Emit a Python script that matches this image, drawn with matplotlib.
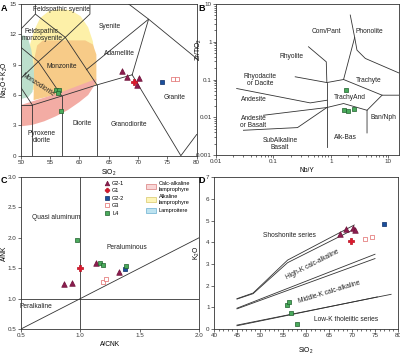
import matplotlib
matplotlib.use('Agg')
import matplotlib.pyplot as plt
from matplotlib.patches import Polygon, Rectangle
from matplotlib.lines import Line2D
from matplotlib.ticker import MultipleLocator, FixedLocator, FixedFormatter

plt.rcParams['font.family'] = ['Liberation Sans', 'DejaVu Sans']
plt.rcParams['mathtext.fontset'] = 'custom'
plt.rcParams['mathtext.rm'] = 'Liberation Sans'
plt.rcParams['mathtext.it'] = 'Liberation Sans:italic'

# ---------------- data ----------------
# A: SiO2 vs Na2O+K2O
a_g21_x = [67.3, 68.2, 70.1, 69.8]
a_g21_y = [8.37, 7.75, 7.65, 7.0]
a_g1_x = [69.3]
a_g1_y = [7.25]
a_g22_x = [74.1]
a_g22_y = [7.3]
a_g3_x = [76.0, 76.7]
a_g3_y = [7.6, 7.6]
a_l4_x = [56.0, 56.6, 56.4, 56.8]
a_l4_y = [6.5, 6.5, 6.2, 4.45]

# B: Nb/Y vs Zr/TiO2
b_l4_x = [1.83, 1.66, 1.98, 2.55]
b_l4_y = [0.052, 0.0153, 0.0144, 0.0163]

# C: A/CNK vs A/NK
c_g21_x = [0.864, 0.929, 1.134, 1.324]
c_g21_y = [1.233, 1.26, 1.578, 1.43]
c_g1_x = [0.997]
c_g1_y = [1.507]
c_g22_x = [1.38]
c_g22_y = [1.485]
c_g3_x = [1.19, 1.213]
c_g3_y = [1.277, 1.315]
c_l4_x = [0.972, 1.162, 1.19, 1.389]
c_l4_y = [1.97, 1.589, 1.55, 1.534]

# D: SiO2 vs K2O
d_g21_x = [67.4, 68.7, 70.2, 70.6]
d_g21_y = [4.38, 4.63, 4.65, 4.55]
d_g1_x = [69.7]
d_g1_y = [4.08]
d_g22_x = [76.9]
d_g22_y = [4.85]
d_g3_x = [72.8, 74.4]
d_g3_y = [4.14, 4.23]
d_l4_x = [55.85, 56.2, 56.8, 58.0]
d_l4_y = [1.12, 1.25, 0.74, 0.22]

groups = ['G2-1', 'G1', 'G2-2', 'G3', 'L4']
styles = {
    'G2-1': dict(marker='^', facecolor='#8c1c4f', edgecolor='#6e1239', s=16),
    'G1': dict(marker='P', facecolor='#e0162b', edgecolor='#b80f20', s=13),
    'G2-2': dict(marker='s', facecolor='#1a4f9c', edgecolor='#0d2d66', s=12),
    'G3': dict(marker='s', facecolor='white', edgecolor='#e06868', s=12),
    'L4': dict(marker='s', facecolor='#4aab5c', edgecolor='#1f5f2c', s=12),
}

LC = '#333333'
FS = 4.8


def style_axes(ax):
    for sp in ax.spines.values():
        sp.set_linewidth(0.6)
        sp.set_color('#333333')
    ax.tick_params(labelsize=4.5, length=2, width=0.5, pad=1.2, colors='#333333')
    ax.tick_params(which='minor', length=1.2, width=0.4)


def scatter_groups(ax, data):
    for g in groups:
        if g in data:
            x, y = data[g]
            ax.scatter(x, y, linewidths=0.5, zorder=5, **styles[g])


fig = plt.figure(figsize=(4.0, 3.57), dpi=100)
W, H = 400.0, 357.0


def add_ax(l, r, t, b):
    return fig.add_axes([l / W, 1 - b / H, (r - l) / W, (b - t) / H])


# ================= A =================
ax = add_ax(20.7, 196.7, 4, 155.7)
# lamprophyre fields
ax.add_patch(Polygon([(51.5, 9.0), (51.6, 11.0), (52.3, 12.4), (53.3, 13.6), (54.8, 14.3),
                      (56.5, 14.5), (58.5, 14.4), (60.2, 13.8), (61.5, 12.7), (62.3, 11.3),
                      (62.7, 9.5), (62.8, 7.5), (52, 6.5)],
                     closed=True, facecolor='#fdf0a8', edgecolor='none', zorder=0))
ax.add_patch(Polygon([(52.2, 5.5), (52.3, 9.5), (52.8, 10.9), (53.8, 11.4), (61.0, 11.4),
                      (62.3, 11.0), (62.9, 10.0), (62.9, 7.0)],
                     closed=True, facecolor='#f7cb88', edgecolor='none', zorder=0))
ax.add_patch(Polygon([(50, 2.9), (52, 3.05), (54, 3.4), (56, 3.9), (58, 4.5), (60, 5.3),
                      (61.5, 6.0), (62.5, 6.9), (62.9, 7.6), (57, 6.3), (50, 5.0)],
                     closed=True, facecolor='#f3aca4', edgecolor='none', zorder=0))
ax.add_patch(Polygon([(50, 5.6), (51.3, 5.8), (52.0, 6.3), (52.3, 7.5), (52.2, 9.0),
                      (51.8, 10.5), (51.3, 11.5), (50.6, 11.9), (50, 11.9)],
                     closed=True, facecolor='#bcdfcc', edgecolor='none', zorder=0))

a_lines = [
    [(50, 5), (52, 5)],
    [(52, 0), (52, 5), (57, 5.9), (63, 7), (69, 8)],
    [(57, 0), (57, 5.9)],
    [(63, 0), (63, 7)],
    [(69, 8), (77.3, 0), (80, 2.1)],
    [(50, 6.77), (52, 5)],
    [(50, 7.63), (53, 9.3), (57.6, 11.7), (61.8, 14.0), (61.8, 15)],
    [(53, 9.3), (57, 5.9)],
    [(57.6, 11.7), (63, 7)],
    [(50, 10.73), (53, 9.3)],
    [(50, 12.5), (52.5, 14), (52.5, 15)],
    [(52.5, 14), (57.6, 11.7)],
    [(61.2, 8.5), (71.8, 13.5), (68.4, 15)],
    [(69, 8), (71.8, 13.5), (80, 9.6)],
]
for seg in a_lines:
    xs, ys = zip(*seg)
    ax.plot(xs, ys, color=LC, lw=0.6, zorder=1)

a_labels = [
    ('Feldspathic syenite', 57.0, 14.5, 0),
    ('Feldspathic\nmonzosyenite', 53.6, 11.9, 0),
    ('Syenite', 65.2, 12.8, 0),
    ('Monzonite', 57.0, 8.8, 0),
    ('Adamellite', 66.9, 10.1, 0),
    ('Monzodiorite', 52.9, 7.0, -33),
    ('Granite', 76.3, 5.75, 0),
    ('Diorite', 60.4, 3.2, 0),
    ('Granodiorite', 68.4, 3.05, 0),
    ('Pyroxene\ndiorite', 53.6, 1.85, 0),
]
for t, x, y, r in a_labels:
    ax.text(x, y, t, fontsize=FS, ha='center', va='center', rotation=r,
            rotation_mode='anchor', color='#222222', linespacing=1.0, zorder=2)

scatter_groups(ax, {'G2-1': (a_g21_x, a_g21_y), 'G1': (a_g1_x, a_g1_y),
                    'G2-2': (a_g22_x, a_g22_y), 'G3': (a_g3_x, a_g3_y),
                    'L4': (a_l4_x, a_l4_y)})
ax.set_xlim(50, 80)
ax.set_ylim(0, 15)
ax.set_xticks(range(50, 81, 5))
ax.set_yticks(range(0, 16, 3))
ax.set_xlabel(r'$\mathregular{SiO_2}$', fontsize=4.8, labelpad=2)
ax.set_ylabel(r'$\mathregular{Na_2O+K_2O}$', fontsize=4.8)
ax.yaxis.set_label_coords(-0.058, 0.5)
style_axes(ax)

# ================= B =================
ax = add_ax(216, 398.5, 4, 155)
ax.set_xscale('log')
ax.set_yscale('log')
b_lines = [
    [(2.17, 5.1), (2.59, 1.30), (2.84, 0.60), (3.97, 0.361), (15.1, 0.150)],
    [(2.59, 1.30), (1.66, 0.100)],
    [(0.407, 0.736), (0.83, 0.294), (0.85, 0.083)],
    [(0.239, 0.118), (0.85, 0.083), (1.66, 0.100), (7.76, 0.0384), (15.1, 0.0384)],
    [(7.76, 0.0384), (4.25, 0.0153), (4.25, 0.00384)],
    [(0.85, 0.083), (0.85, 0.00163)],
    [(0.0229, 0.0577), (0.436, 0.0240), (0.85, 0.0282)],
    [(0.067, 0.0113), (0.85, 0.0181), (1.66, 0.0231), (4.25, 0.0153)],
    [(0.030, 0.00452), (0.262, 0.00532), (0.85, 0.0181)],
]
for seg in b_lines:
    xs, ys = zip(*seg)
    ax.plot(xs, ys, color=LC, lw=0.6, zorder=1)

b_labels = [
    ('Com/Pant', 0.82, 1.92),
    ('Phonolite', 4.72, 1.92),
    ('Rhyolite', 0.209, 0.40),
    ('Rhyodacite\nor Dacite', 0.0585, 0.096),
    ('Trachyte', 4.54, 0.096),
    ('Andesite', 0.0448, 0.0294),
    ('TrachyAnd', 2.12, 0.0333),
    ('Andesite\nor Basalt', 0.0448, 0.0075),
    ('Ban/Nph', 8.3, 0.0098),
    ('Alk-Bas', 1.78, 0.00288),
    ('SubAlkaline\nBasalt', 0.13, 0.00192),
]
for t, x, y in b_labels:
    ax.text(x, y, t, fontsize=FS, ha='center', va='center', color='#222222',
            linespacing=1.0, zorder=2)

scatter_groups(ax, {'L4': (b_l4_x, b_l4_y)})
ax.set_xlim(0.01, 15)
ax.set_ylim(0.001, 10)
ax.xaxis.set_major_locator(FixedLocator([0.01, 0.1, 1, 10]))
ax.xaxis.set_major_formatter(FixedFormatter(['0.01', '0.1', '1', '10']))
ax.yaxis.set_major_locator(FixedLocator([0.001, 0.01, 0.1, 1, 10]))
ax.yaxis.set_major_formatter(FixedFormatter(['0.001', '0.01', '0.1', '1', '10']))
ax.set_xlabel('Nb/Y', fontsize=4.8, labelpad=2)
ax.set_ylabel(r'$\mathregular{Zr/TiO_2}$', fontsize=4.8, labelpad=1)
ax.yaxis.set_label_coords(-0.065, 0.7)
style_axes(ax)

# ================= C =================
ax = add_ax(21, 199, 177, 329)
ax.axvline(1.0, color=LC, lw=0.6, zorder=1)
ax.axhline(1.0, color=LC, lw=0.6, zorder=1)
ax.plot([0.5, 2.0], [0.5, 2.0], color=LC, lw=0.6, zorder=1)
c_labels = [
    ('Quasi aluminum', 0.793, 2.327),
    ('Peraluminous', 1.39, 1.835),
    ('Peralkaline', 0.622, 0.867),
]
for t, x, y in c_labels:
    ax.text(x, y, t, fontsize=FS, ha='center', va='center', color='#222222', zorder=2)

scatter_groups(ax, {'G2-1': (c_g21_x, c_g21_y), 'G1': (c_g1_x, c_g1_y),
                    'G2-2': (c_g22_x, c_g22_y), 'G3': (c_g3_x, c_g3_y),
                    'L4': (c_l4_x, c_l4_y)})
ax.set_xlim(0.5, 2.0)
ax.set_ylim(0.5, 3.0)
ax.set_xticks([0.5, 1.0, 1.5, 2.0])
ax.set_yticks([0.5, 1.0, 1.5, 2.0, 2.5, 3.0])
ax.set_xticklabels(['0.5', '1.0', '1.5', '2.0'])
ax.set_yticklabels(['0.5', '1.0', '1.5', '2.0', '2.5', '3.0'])
ax.set_xlabel('A/CNK', fontsize=4.8, labelpad=2)
ax.set_ylabel('A/NK', fontsize=4.8)
ax.yaxis.set_label_coords(-0.075, 0.5)
style_axes(ax)

handles = [Line2D([], [], linestyle='none', marker=styles[g]['marker'],
                  markerfacecolor=styles[g]['facecolor'],
                  markeredgecolor=styles[g]['edgecolor'], markersize=3.3,
                  markeredgewidth=0.5) for g in groups]
leg1 = ax.legend(handles, groups, loc='upper left', bbox_to_anchor=(0.45, 1.0),
                 frameon=False, fontsize=4, handlelength=0.8, handletextpad=0.5,
                 labelspacing=0.45, borderpad=0.2)
ax.add_artist(leg1)
fields = ['Calc-alkaline\nlamprophyre', 'Alkaline\nlamprophyre', 'Lamproitere']
field_face = ['#f8d6d6', '#fdf5b8', '#bde3f0']
field_edge = ['#d97c7c', '#d9c86a', '#6aaed0']
patches = [Rectangle((0, 0), 1, 1, facecolor=fc, edgecolor=ec, linewidth=0.5)
           for fc, ec in zip(field_face, field_edge)]
ax.legend(patches, fields, loc='upper left', bbox_to_anchor=(0.68, 1.0),
          frameon=False, fontsize=4, handlelength=1.8, handleheight=1.0,
          handletextpad=0.5, labelspacing=0.5, borderpad=0.2)

# ================= D =================
ax = add_ax(214, 398, 177.3, 329)
d_lines = [
    [(45, 1.4), (48.5, 1.66), (56, 3.18), (70.5, 4.8)],
    [(45, 1.38), (48.5, 1.63), (56, 3.06), (70.7, 4.63)],
    [(45, 0.96), (75, 3.45)],
    [(45, 0.93), (75, 3.25)],
    [(45, 0.18), (78.5, 1.6)],
    [(45, 0.15), (75.5, 1.48)],
]
for seg in d_lines:
    xs, ys = zip(*seg)
    ax.plot(xs, ys, color=LC, lw=0.6, zorder=1)
d_labels = [
    ('Shoshonite series', 56.4, 4.31, 0),
    ('High-K calc-alkaline', 61.5, 2.95, 27),
    ('Middle-K calc-alkaline', 65.1, 1.72, 17),
    ('Low-K tholeiitic series', 68.7, 0.42, 0),
]
for t, x, y, r in d_labels:
    ax.text(x, y, t, fontsize=FS, ha='center', va='center', rotation=r,
            rotation_mode='anchor', color='#222222', zorder=2)

scatter_groups(ax, {'G2-1': (d_g21_x, d_g21_y), 'G1': (d_g1_x, d_g1_y),
                    'G2-2': (d_g22_x, d_g22_y), 'G3': (d_g3_x, d_g3_y),
                    'L4': (d_l4_x, d_l4_y)})
ax.set_xlim(40, 80)
ax.set_ylim(0, 7)
ax.xaxis.set_major_locator(MultipleLocator(5))
ax.xaxis.set_minor_locator(MultipleLocator(1))
ax.set_yticks(range(0, 8))
ax.set_xlabel(r'$\mathregular{SiO_2}$', fontsize=4.8, labelpad=5)
ax.set_ylabel(r'$\mathregular{K_2O}$', fontsize=4.8, labelpad=3)
style_axes(ax)

# panel letters
for t, x, y in [('A', 0.5, 4), ('B', 198.5, 4), ('C', 0.5, 176), ('D', 198.5, 176)]:
    fig.text(x / W, 1 - y / H, t, fontsize=6.5, fontweight='bold', ha='left', va='top')

fig.savefig('out.png', dpi=100)
